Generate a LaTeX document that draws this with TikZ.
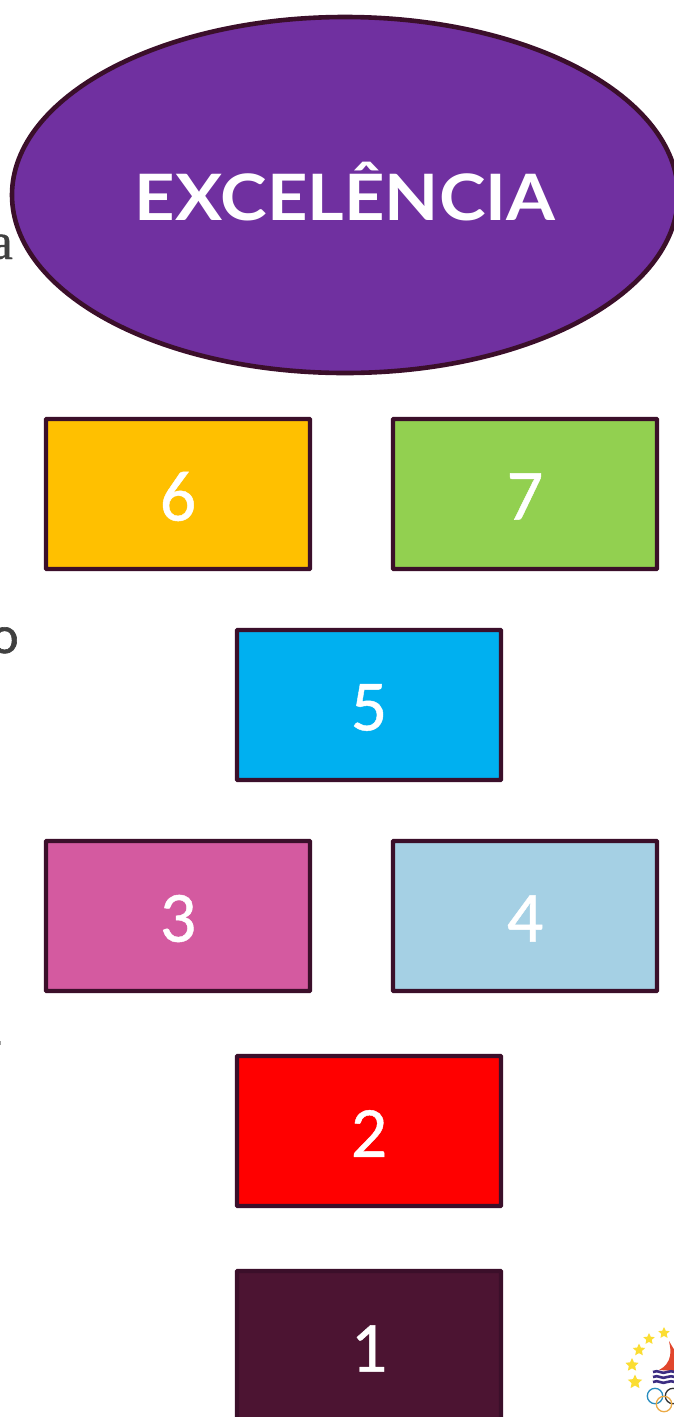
\documentclass[tikz,border=0pt]{standalone}
\usepackage{fontspec}
\setmainfont{Lato}
\newfontfamily\numfont[FakeBold=0.6]{Carlito}
\newfontfamily\titlefont[FakeStretch=1.1]{Lato}
\newfontfamily\serfont[FakeBold=0.8]{Liberation Serif}
\newfontfamily\ofont[FakeBold=1.2]{Lato}
\usetikzlibrary{shapes.geometric}
\definecolor{edge}{HTML}{3B0F2A}
\definecolor{bgtext}{HTML}{404040}
\definecolor{starcol}{HTML}{FBDD32}
\newcommand{\numtxt}[1]{\raisebox{-2.5pt}[\height][\depth]{#1}}
\tikzset{
  numbox/.style={draw=edge,line width=4.2pt,rounded corners=0.6pt,minimum width=264pt,minimum height=150pt,inner sep=0pt,text=white,font=\numfont\fontsize{72}{72}\selectfont},
  bgglyph/.style={text=bgtext,inner sep=0pt},
  oldstar/.style={star,star points=5,star point ratio=2.1,fill=starcol,draw=none,inner sep=0pt},
  ring/.style={line width=1.3pt}
}
\begin{document}
\begin{tikzpicture}[x=1pt,y=-1pt]
\useasboundingbox (0,0) rectangle (674,1417);
\clip (0,0) rectangle (674,1417);
\fill[white] (0,0) rectangle (674,1417);
% fragments of text behind
\node[bgglyph,anchor=base east,font=\serfont\fontsize{52}{52}\selectfont] (fa) at (13,259) {a};
\node[bgglyph,anchor=base east,font=\ofont\fontsize{50}{50}\selectfont] (fo) at (19,653) {o};
\fill[bgtext!50] (0,1041) rectangle (1,1045);
% ellipse
\node[ellipse,draw=edge,line width=4.6pt,fill={rgb,255:red,112;green,48;blue,160},minimum width=666pt,minimum height=356pt,inner sep=0pt,text=white,font=\titlefont\bfseries\fontsize{64}{64}\selectfont] (top) at (345,195) {\raisebox{3pt}[\height][\depth]{EXCELÊNCIA}};
% boxes
\node[numbox,fill={rgb,255:red,255;green,192;blue,0}] (n6) at (178,494) {\numtxt{6}};
\node[numbox,fill={rgb,255:red,146;green,208;blue,80}] (n7) at (525,494) {\numtxt{7}};
\node[numbox,fill={rgb,255:red,0;green,176;blue,240}] (n5) at (369,705) {\numtxt{5}};
\node[numbox,fill={rgb,255:red,212;green,90;blue,160}] (n3) at (178,916) {\numtxt{3}};
\node[numbox,fill={rgb,255:red,165;green,208;blue,228}] (n4) at (525,916) {\numtxt{4}};
\node[numbox,fill={rgb,255:red,255;green,0;blue,0}] (n2) at (369,1131) {\numtxt{2}};
\node[numbox,fill={rgb,255:red,76;green,20;blue,50}] (n1) at (369,1346) {\numtxt{1}};
% logo
\node[oldstar,minimum size=15pt] (s1) at (635,1382) {};
\node[oldstar,minimum size=14pt] (s2) at (632,1365) {};
\node[oldstar,minimum size=13pt] (s3) at (639,1350) {};
\node[oldstar,minimum size=12pt] (s4) at (649,1339) {};
\node[oldstar,minimum size=12pt] (s5) at (664,1333) {};
\fill[color={rgb,255:red,225;green,70;blue,45}] (659,1370) .. controls (665,1367) and (669,1362) .. (670,1356) .. controls (671,1351) and (670,1346) .. (669,1341) .. controls (672,1346) and (674,1350) .. (676,1352) -- (676,1371) -- cycle;
\foreach \yy in {1372,1377,1382}{
  \draw[line width=2.6pt,color={rgb,255:red,60;green,45;blue,130}] (653,\yy) .. controls (658,\yy-3) and (662,\yy+3) .. (667,\yy) .. controls (670,\yy-2) and (672,\yy) .. (676,\yy);
}
\draw[ring,color={rgb,255:red,40;green,140;blue,190}] (655,1396) circle (7.7);
\draw[ring,color=black!80] (673,1396) circle (7.7);
\draw[ring,color={rgb,255:red,235;green,170;blue,70}] (664,1404) circle (7.7);
\end{tikzpicture}
\end{document}
